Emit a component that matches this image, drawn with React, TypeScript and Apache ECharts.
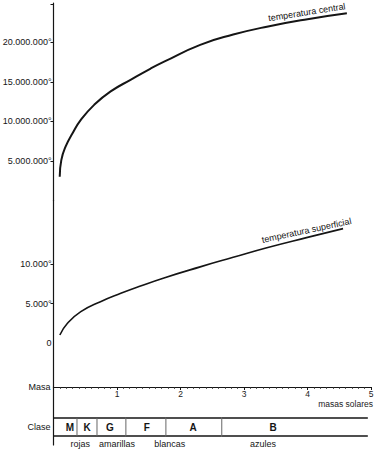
import React, { useEffect, useRef } from 'react';
import * as echarts from 'echarts';

// ---- data ----
const centralMass = [0.098, 0.123, 0.19, 0.3, 0.43, 0.64, 0.9, 1.22, 1.53, 1.75, 2.31, 2.83, 3.36, 4.0, 4.62];
const centralTemp = [3.0e6, 5.1e6, 6.8e6, 8.5e6, 10.2e6, 12.1e6, 13.8e6, 15.3e6, 16.7e6, 17.6e6, 19.7e6, 21.0e6, 22.0e6, 22.95e6, 23.7e6];
const surfaceMass = [0.1, 0.22, 0.43, 0.74, 1.06, 1.37, 1.74, 2.31, 2.83, 3.36, 4.0, 4.56];
const surfaceTemp = [1070, 2540, 4000, 5260, 6310, 7230, 8250, 9640, 10840, 12050, 13350, 14450];

const centralTicks = [5e6, 1e7, 1.5e7, 2e7];
const centralTickLabels = ['5.000.000°', '10.000.000°', '15.000.000°', '20.000.000°'];
const surfaceTicks = [0, 5000, 10000];
const surfaceTickLabels = ['0', '5.000°', '10.000°'];

const classNames = ['M', 'K', 'G', 'F', 'A', 'B'];
const classStart = [0, 0.37, 0.685, 1.14, 1.77, 2.65];
const classEnd = [0.37, 0.685, 1.14, 1.77, 2.65, 4.95];
const classLabelPos = [0.26, 0.53, 0.89, 1.47, 2.2, 3.46];

const colourNames = ['rojas', 'amarillas', 'blancas', 'azules'];
const colourPos = [0.42, 1.0, 1.83, 3.3];

const centralLabelMass = 4.0;
const surfaceLabelMass = 4.0;
const massUnitName = 'masas solares';

const FONT = '"Liberation Sans", Arial, sans-serif';
const INK = '#151515';

export default function App() {
  const ref = useRef<HTMLDivElement>(null);

  useEffect(() => {
    if (!ref.current) return;
    const chart = echarts.init(ref.current, undefined, { renderer: 'svg' });

    const centralData = centralMass.map((m, i) => {
      const item: any = { value: [m, centralTemp[i]] };
      if (m === centralLabelMass) {
        item.label = {
          show: true,
          formatter: 'temperatura central',
          position: 'top',
          distance: 2,
          rotate: 9,
          fontSize: 9,
          fontFamily: FONT,
          color: INK,
        };
      }
      return item;
    });
    const surfaceData = surfaceMass.map((m, i) => {
      const item: any = { value: [m, surfaceTemp[i]] };
      if (m === surfaceLabelMass) {
        item.label = {
          show: true,
          formatter: 'temperatura superficial',
          position: 'top',
          distance: 2,
          rotate: 12,
          fontSize: 9,
          fontFamily: FONT,
          color: INK,
        };
      }
      return item;
    });

    const axisLine = { show: true, onZero: false, lineStyle: { color: INK, width: 1.2 } };
    const gridBase = { left: 53.5, right: 3, containLabel: false, outerBoundsMode: 'none' };

    const option: any = {
      animation: false,
      backgroundColor: '#fff',
      graphic: [
        {
          type: 'text',
          right: 1,
          top: 399.5,
          style: {
            text: massUnitName,
            fontSize: 8.5,
            fontFamily: FONT,
            fill: '#222',
          },
        },
      ],
      grid: [
        { ...gridBase, top: 3, height: 197.4 },
        { ...gridBase, top: 200.4, height: 186.6 },
        { ...gridBase, top: 387, height: 58 },
      ],
      xAxis: [
        { gridIndex: 0, type: 'value', min: 0, max: 5, show: false },
        {
          gridIndex: 1,
          type: 'value',
          min: 0,
          max: 5,
          interval: 1,
          position: 'bottom',
          axisLine,
          axisTick: { show: true, length: 3, lineStyle: { color: INK } },
          minorTick: { show: true, splitNumber: 10, length: 2, lineStyle: { color: '#333', width: 0.8 } },
          splitLine: { show: false },
          axisLabel: {
            formatter: (v: number) => (v === 0 ? '' : String(v)),
            fontSize: 8.5,
            fontFamily: FONT,
            color: '#222',
            margin: 2,
            showMaxLabel: true,
          },
        },
        { gridIndex: 2, type: 'value', min: 0, max: 5, show: false },
      ],
      yAxis: [
        {
          gridIndex: 0,
          type: 'value',
          min: 0,
          max: 25e6,
          axisLine,
          splitLine: { show: false },
          axisTick: { show: true, length: 3, customValues: [...centralTicks, 24.9e6], lineStyle: { color: INK } },
          axisLabel: {
            customValues: centralTicks,
            formatter: (v: number) => centralTickLabels[centralTicks.indexOf(v)] ?? '',
            fontSize: 9,
            fontFamily: FONT,
            color: INK,
            margin: 2,
          },
        },
        {
          gridIndex: 1,
          type: 'value',
          min: -5472,
          max: 18000,
          axisLine,
          splitLine: { show: false },
          axisTick: { show: true, length: 3, customValues: surfaceTicks.slice(1), lineStyle: { color: INK } },
          axisLabel: {
            customValues: surfaceTicks,
            formatter: (v: number) => surfaceTickLabels[surfaceTicks.indexOf(v)] ?? '',
            fontSize: 9,
            fontFamily: FONT,
            color: INK,
            margin: 2,
          },
        },
        {
          gridIndex: 2,
          type: 'value',
          min: 0,
          max: 58,
          inverse: true,
          axisLine,
          splitLine: { show: false },
          axisTick: { show: false },
          axisLabel: {
            customValues: [0, 40],
            formatter: (v: number) => (v === 0 ? 'Masa' : 'Clase'),
            fontSize: 9,
            fontFamily: FONT,
            color: INK,
            margin: 3,
            showMinLabel: true,
          },
        },
      ],
      series: [
        {
          type: 'line',
          xAxisIndex: 0,
          yAxisIndex: 0,
          data: centralData,
          smooth: 0.5,
          symbol: 'circle',
          symbolSize: 1,
          showSymbol: true,
          showAllSymbol: true,
          silent: true,
          lineStyle: { color: INK, width: 2 },
          itemStyle: { color: 'transparent', borderWidth: 0 },
        },
        {
          type: 'line',
          xAxisIndex: 1,
          yAxisIndex: 1,
          data: surfaceData,
          smooth: 0.5,
          symbol: 'circle',
          symbolSize: 1,
          showSymbol: true,
          showAllSymbol: true,
          silent: true,
          lineStyle: { color: INK, width: 1.6 },
          itemStyle: { color: 'transparent', borderWidth: 0 },
        },
        {
          type: 'custom',
          xAxisIndex: 2,
          yAxisIndex: 2,
          silent: true,
          data: classNames.map((_, i) => [classStart[i], classEnd[i], classLabelPos[i]]),
          renderItem: (params: any, api: any) => {
            const s = api.value(0);
            const e = api.value(1);
            const c = api.value(2);
            const tl = api.coord([s, 31]);
            const tr = api.coord([e, 31]);
            const bl = api.coord([s, 49]);
            const br = api.coord([e, 49]);
            const mid = api.coord([c, 40]);
            const children: any[] = [
              { type: 'line', shape: { x1: tl[0], y1: tl[1], x2: tr[0], y2: tr[1] }, style: { stroke: INK, lineWidth: 1.5 } },
              { type: 'line', shape: { x1: bl[0], y1: bl[1], x2: br[0], y2: br[1] }, style: { stroke: INK, lineWidth: 1.5 } },
              {
                type: 'text',
                x: mid[0],
                y: mid[1],
                style: {
                  text: classNames[params.dataIndex],
                  align: 'center',
                  verticalAlign: 'middle',
                  fontSize: 10,
                  fontWeight: 'bold',
                  fontFamily: FONT,
                  fill: INK,
                },
              },
            ];
            if (s > 0) {
              children.push({
                type: 'line',
                shape: { x1: tl[0], y1: tl[1], x2: bl[0], y2: bl[1] },
                style: { stroke: '#666', lineWidth: 1 },
              });
            }
            return { type: 'group', children };
          },
        },
        {
          type: 'custom',
          xAxisIndex: 2,
          yAxisIndex: 2,
          silent: true,
          data: colourPos.map((p) => [p, 57.3]),
          renderItem: (params: any, api: any) => {
            const pt = api.coord([api.value(0), api.value(1)]);
            return {
              type: 'text',
              x: pt[0],
              y: pt[1],
              style: {
                text: colourNames[params.dataIndex],
                align: 'center',
                verticalAlign: 'middle',
                fontSize: 9,
                fontFamily: FONT,
                fill: INK,
              },
            };
          },
        },
      ],
    };

    chart.setOption(option);
    return () => chart.dispose();
  }, []);

  return (
    <div
      ref={ref}
      style={{ position: 'absolute', left: 0, top: 0, width: 374, height: 450, background: '#fff' }}
    />
  );
}
